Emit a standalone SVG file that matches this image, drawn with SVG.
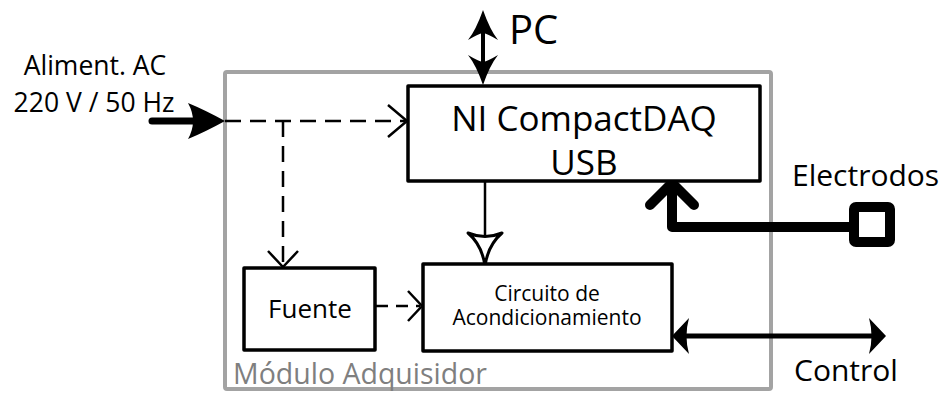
<svg xmlns="http://www.w3.org/2000/svg" width="946" height="393" viewBox="0 0 946 393">
<style>
text{font-family:"Open Sans","Noto Sans",sans-serif;fill:#000}
.box{fill:#fff;stroke:#000;stroke-width:3.5;stroke-linejoin:round}
.dash{fill:none;stroke:#000;stroke-width:2.5;stroke-dasharray:16 9}
.chev{fill:none;stroke:#000;stroke-width:2.5;stroke-linejoin:miter}
.thick{fill:none;stroke:#000;stroke-width:10;stroke-linecap:round;stroke-linejoin:round}
</style>
<rect width="946" height="393" fill="#fff"/>
<g id="modulo">
<rect x="225" y="72" width="546" height="317" rx="2" fill="none" stroke="#a3a3a3" stroke-width="4"/>
<text x="233" y="384" font-size="28.5" style="fill:#7f7f7f">Módulo Adquisidor</text>
</g>
<g id="labels">
<text x="95" y="75" font-size="26.5" text-anchor="middle">Aliment. AC</text>
<text x="94" y="112" font-size="26.5" text-anchor="middle">220 V / 50 Hz</text>
<text x="509" y="44" font-size="40">PC</text>
<text x="792" y="186" font-size="30">Electrodos</text>
<text x="794" y="381" font-size="30">Control</text>
</g>
<g id="connectors">
<line x1="152" y1="121" x2="195" y2="121" stroke="#000" stroke-width="7" stroke-linecap="round"/>
<path d="M225,121 Q205,110 188,103 Q198,121 188,139 Q205,132 225,121 Z" fill="#000"/>
<line x1="225" y1="121" x2="405" y2="121" class="dash"/>
<polyline points="388,105 407,121 388,137" class="chev"/>
<line x1="283" y1="121" x2="283" y2="265" class="dash"/>
<polyline points="268,251 283,267 298,251" class="chev"/>
<line x1="376" y1="306" x2="420" y2="306" class="dash" style="stroke-dasharray:12 8"/>
<polyline points="408,291 422,306 408,321" class="chev"/>
<line x1="483" y1="25" x2="483" y2="70" stroke="#000" stroke-width="4"/>
<path d="M483,10 Q490,30 498,40 Q488,34 483,33 Q478,34 468,40 Q476,30 483,10 Z" fill="#000"/>
<path d="M483,85 Q490,65 498,55 Q488,61 483,62 Q478,61 468,55 Q476,65 483,85 Z" fill="#000"/>
<line x1="485" y1="181" x2="485" y2="238" stroke="#000" stroke-width="2.5"/>
<path d="M468,233 Q482,245 485,266 Q488,245 502,233 Q485,240 468,233 Z" fill="#fff" stroke="#000" stroke-width="3" stroke-linejoin="round"/>
<path d="M856,227 L672,227 L672,186" class="thick"/>
<polyline points="650,205 672,183 694,205" class="thick"/>
<line x1="680" y1="336" x2="878" y2="336" stroke="#000" stroke-width="5"/>
<path d="M672,336 L689,318 Q684,336 689,354 Z" fill="#000"/>
<path d="M886,336 L869,318 Q874,336 869,354 Z" fill="#000"/>
</g>
<g id="ni">
<rect x="408" y="86" width="352" height="95" class="box"/>
<text x="584" y="131" font-size="35" text-anchor="middle">NI CompactDAQ</text>
<text x="584" y="175" font-size="35" text-anchor="middle">USB</text>
</g>
<g id="electrodo">
<rect x="854" y="207" width="36" height="35" rx="2" fill="#fff" stroke="#000" stroke-width="10" stroke-linejoin="round"/>
</g>
<g id="fuente">
<rect x="244" y="268" width="131" height="82" class="box"/>
<text x="310" y="318" font-size="26" text-anchor="middle">Fuente</text>
</g>
<g id="circuito">
<rect x="423" y="264" width="249" height="87" class="box"/>
<text x="547" y="301" font-size="21" text-anchor="middle">Circuito de</text>
<text x="547" y="325" font-size="21" text-anchor="middle">Acondicionamiento</text>
</g>
</svg>
